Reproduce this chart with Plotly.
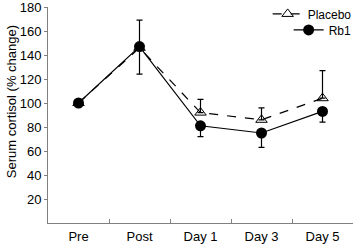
import plotly.graph_objects as go

categories = ["Pre", "Post", "Day 1", "Day 3", "Day 5"]
placebo = [100, 146, 92, 86, 104]
placebo_err_up = [2, 23, 11, 10, 23]
rb1 = [100, 147, 81, 75, 93]
rb1_err_down = [2, 23, 9, 12, 9]
y_ticks = [20, 40, 60, 80, 100, 120, 140, 160, 180]
y_title = "Serum cortisol (% change)"

fig = go.Figure()
fig.add_trace(go.Scatter(
    x=categories, y=placebo, name="Placebo", mode="lines+markers",
    line=dict(color="black", width=1.2, dash="dash"),
    marker=dict(symbol="triangle-up-open", size=10, color="black", line=dict(width=1)),
    error_y=dict(type="data", array=placebo_err_up, arrayminus=[0]*5, symmetric=False,
                 color="black", thickness=1.2, width=3),
    legend="legend",
))
fig.add_trace(go.Scatter(
    x=categories, y=rb1, name="Rb1", mode="lines+markers",
    line=dict(color="black", width=1.2),
    marker=dict(symbol="circle", size=11, color="black"),
    error_y=dict(type="data", array=[0]*5, arrayminus=rb1_err_down, symmetric=False,
                 color="black", thickness=1.2, width=3),
    legend="legend2",
))

leg_common = dict(xanchor="right", yanchor="middle", bgcolor="rgba(0,0,0,0)",
                  font=dict(size=12), itemwidth=30)
fig.update_layout(
    width=358, height=247,
    margin=dict(l=48, r=5, t=7, b=24, autoexpand=False),
    paper_bgcolor="white", plot_bgcolor="white",
    font=dict(family="Liberation Sans, Arial", size=13, color="black"),
    showlegend=True,
    legend=dict(x=1.012, y=0.968, **leg_common),
    legend2=dict(x=1.012, y=0.894, **leg_common),
    annotations=[dict(text=y_title, xref="paper", yref="paper", x=-0.121, y=0.56,
                      xanchor="center", yanchor="middle", textangle=-90,
                      showarrow=False, font=dict(size=13))],
)
fig.update_xaxes(
    type="category", range=[-0.5, 4.5],
    showline=True, linecolor="#808080", linewidth=1,
    ticks="inside", tickson="boundaries", ticklen=4, tickcolor="#808080",
    showgrid=False, zeroline=False, tickfont=dict(size=13),
    ticklabelstandoff=1, automargin=False, ticklabeloverflow="allow",
)
fig.update_yaxes(
    range=[0, 180], tickvals=y_ticks,
    showline=True, linecolor="#808080", linewidth=1,
    ticks="outside", ticklen=3, tickcolor="#808080",
    showgrid=False, zeroline=False, tickfont=dict(size=13),
    automargin=False, ticklabeloverflow="allow",
)

fig.write_html("out.html", config={"displayModeBar": False},
               post_script="document.body.style.margin='0';document.body.style.overflow='hidden';")
